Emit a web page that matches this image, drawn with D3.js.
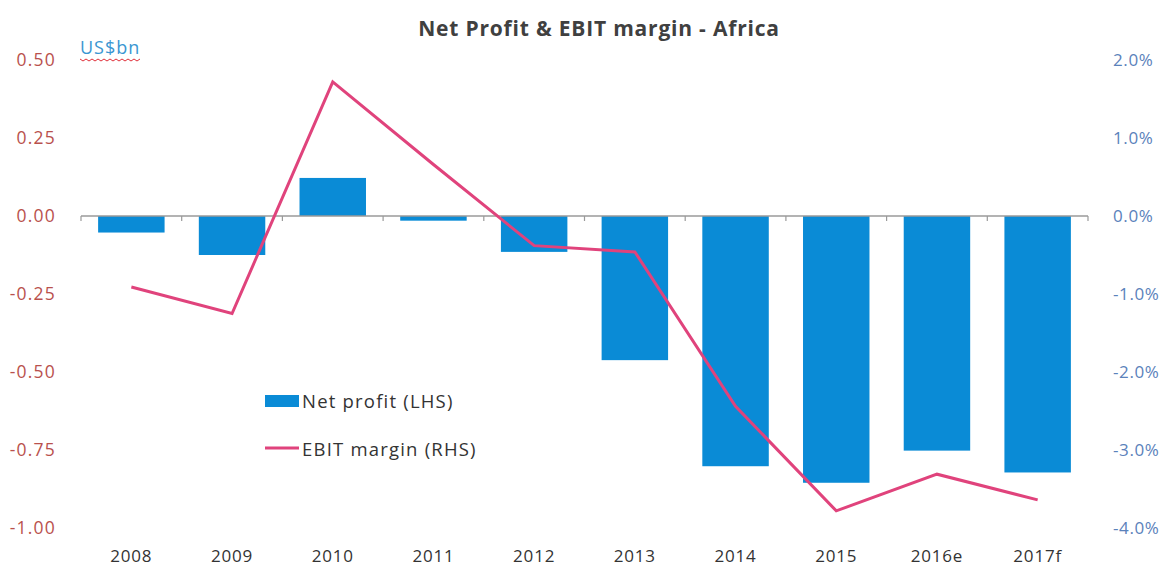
<!DOCTYPE html>
<html>
<head>
<meta charset="utf-8">
<script src="https://cdn.jsdelivr.net/npm/d3@7"></script>
<style>
  body { margin: 0; background: #fff; }
  text { font-family: "Open Sans", sans-serif; }
</style>
</head>
<body>
<div id="chart"></div>
<script>
  // chart data
  var years = ["2008", "2009", "2010", "2011", "2012", "2013", "2014", "2015", "2016e", "2017f"];
  var netProfit = [-0.053, -0.125, 0.122, -0.015, -0.115, -0.462, -0.802, -0.855, -0.752, -0.822];
  var ebitMargin = [-0.91, -1.25, 1.72, 0.66, -0.38, -0.46, -2.44, -3.78, -3.31, -3.64];
  var leftTicks = [0.5, 0.25, 0, -0.25, -0.5, -0.75, -1.0];
  var rightTicks = [2, 1, 0, -1, -2, -3, -4];

  var outerWidth = 1169,
      outerHeight = 567,
      margin = { top: 60, right: 81, bottom: 39, left: 81 },
      width = outerWidth - margin.left - margin.right,
      height = outerHeight - margin.top - margin.bottom;

  var svg = d3.select("#chart").append("svg")
      .attr("width", outerWidth)
      .attr("height", outerHeight);

  var g = svg.append("g")
      .attr("transform", "translate(" + margin.left + "," + margin.top + ")");

  var x = d3.scaleBand()
      .domain(years)
      .range([0, width])
      .paddingInner(0.34)
      .paddingOuter(0.17);

  var yLeft = d3.scaleLinear()
      .domain([-1, 0.5])
      .range([height, 0]);

  var yRight = d3.scaleLinear()
      .domain([-4, 2])
      .range([height, 0]);

  // title
  svg.append("text")
      .attr("x", 599)
      .attr("y", 36)
      .attr("text-anchor", "middle")
      .attr("font-size", "21px")
      .attr("font-weight", "bold")
      .attr("letter-spacing", "0.8px")
      .attr("fill", "#404040")
      .text("Net Profit & EBIT margin - Africa");

  // unit label with the squiggly underline
  var unit = svg.append("text")
      .attr("x", 80)
      .attr("y", 54)
      .attr("font-size", "18px")
      .attr("letter-spacing", "1px")
      .attr("fill", "#3a96d2")
      .text("US$bn");
  var ub = unit.node().getBBox();
  var wave = d3.range(0, Math.floor(ub.width / 3) + 1)
      .map(i => [ub.x + i * 3, ub.y + ub.height + 0.5 + (i % 2 ? 1.5 : -0.5)]);
  svg.append("path")
      .attr("d", d3.line()(wave))
      .attr("fill", "none")
      .attr("stroke", "#e0303a")
      .attr("stroke-width", 1);

  // left axis labels
  var leftAxis = g.append("g")
      .attr("transform", "translate(-22,0)")
      .call(d3.axisLeft(yLeft).tickValues(leftTicks).tickFormat(d => d.toFixed(2)).tickSize(0));
  leftAxis.select(".domain").remove();
  leftAxis.selectAll("text")
      .attr("font-size", "17.5px")
      .attr("font-family", "'Open Sans', sans-serif")
      .attr("letter-spacing", "1.2px")
      .attr("fill", "#b9514d");

  // right axis labels
  var rightAxis = g.append("g")
      .attr("transform", "translate(" + (width + 22) + ",0)")
      .call(d3.axisRight(yRight).tickValues(rightTicks).tickFormat(d => d.toFixed(1) + "%").tickSize(0));
  rightAxis.select(".domain").remove();
  rightAxis.selectAll("text")
      .attr("font-size", "17px")
      .attr("font-family", "'Open Sans', sans-serif")
      .attr("letter-spacing", "0.6px")
      .attr("fill", "#5b82bb");

  // bars
  g.append("g")
      .selectAll("rect")
      .data(netProfit)
    .enter().append("rect")
      .attr("x", (d, i) => x(years[i]))
      .attr("y", d => yLeft(Math.max(0, d)))
      .attr("width", x.bandwidth())
      .attr("height", d => Math.abs(yLeft(d) - yLeft(0)))
      .attr("fill", "#0a8bd6");

  // category axis on the zero line
  var step = x.step();
  var xAxis = g.append("g")
      .attr("transform", "translate(0," + yLeft(0) + ")");
  xAxis.append("line")
      .attr("x1", 0)
      .attr("x2", width)
      .attr("stroke", "#9a9a9a")
      .attr("stroke-width", 1.5);
  xAxis.selectAll(".tick")
      .data(d3.range(0, years.length + 1))
    .enter().append("line")
      .attr("x1", i => i * step)
      .attr("x2", i => i * step)
      .attr("y1", 0)
      .attr("y2", 5)
      .attr("stroke", "#9a9a9a")
      .attr("stroke-width", 1.2);

  // category labels at the bottom
  g.append("g")
      .selectAll("text")
      .data(years)
    .enter().append("text")
      .attr("x", d => x(d) + x.bandwidth() / 2)
      .attr("y", height + 34)
      .attr("text-anchor", "middle")
      .attr("font-size", "17px")
      .attr("letter-spacing", "0.8px")
      .attr("fill", "#333")
      .text(d => d);

  // EBIT margin line
  var line = d3.line()
      .x((d, i) => x(years[i]) + x.bandwidth() / 2)
      .y(d => yRight(d));

  g.append("path")
      .datum(ebitMargin)
      .attr("d", line)
      .attr("fill", "none")
      .attr("stroke", "#e0437c")
      .attr("stroke-width", 3)
      .attr("stroke-linejoin", "miter");

  // legend
  var legend = svg.append("g");
  legend.append("rect")
      .attr("x", 265)
      .attr("y", 395)
      .attr("width", 34)
      .attr("height", 12)
      .attr("fill", "#0a8bd6");
  legend.append("text")
      .attr("x", 302)
      .attr("y", 408)
      .attr("font-size", "18.5px")
      .attr("letter-spacing", "1.2px")
      .attr("fill", "#333")
      .text("Net profit (LHS)");
  legend.append("line")
      .attr("x1", 265)
      .attr("x2", 299)
      .attr("y1", 448)
      .attr("y2", 448)
      .attr("stroke", "#e0437c")
      .attr("stroke-width", 3);
  legend.append("text")
      .attr("x", 302)
      .attr("y", 456)
      .attr("font-size", "18.5px")
      .attr("letter-spacing", "1.2px")
      .attr("fill", "#333")
      .text("EBIT margin (RHS)");
</script>
</body>
</html>
